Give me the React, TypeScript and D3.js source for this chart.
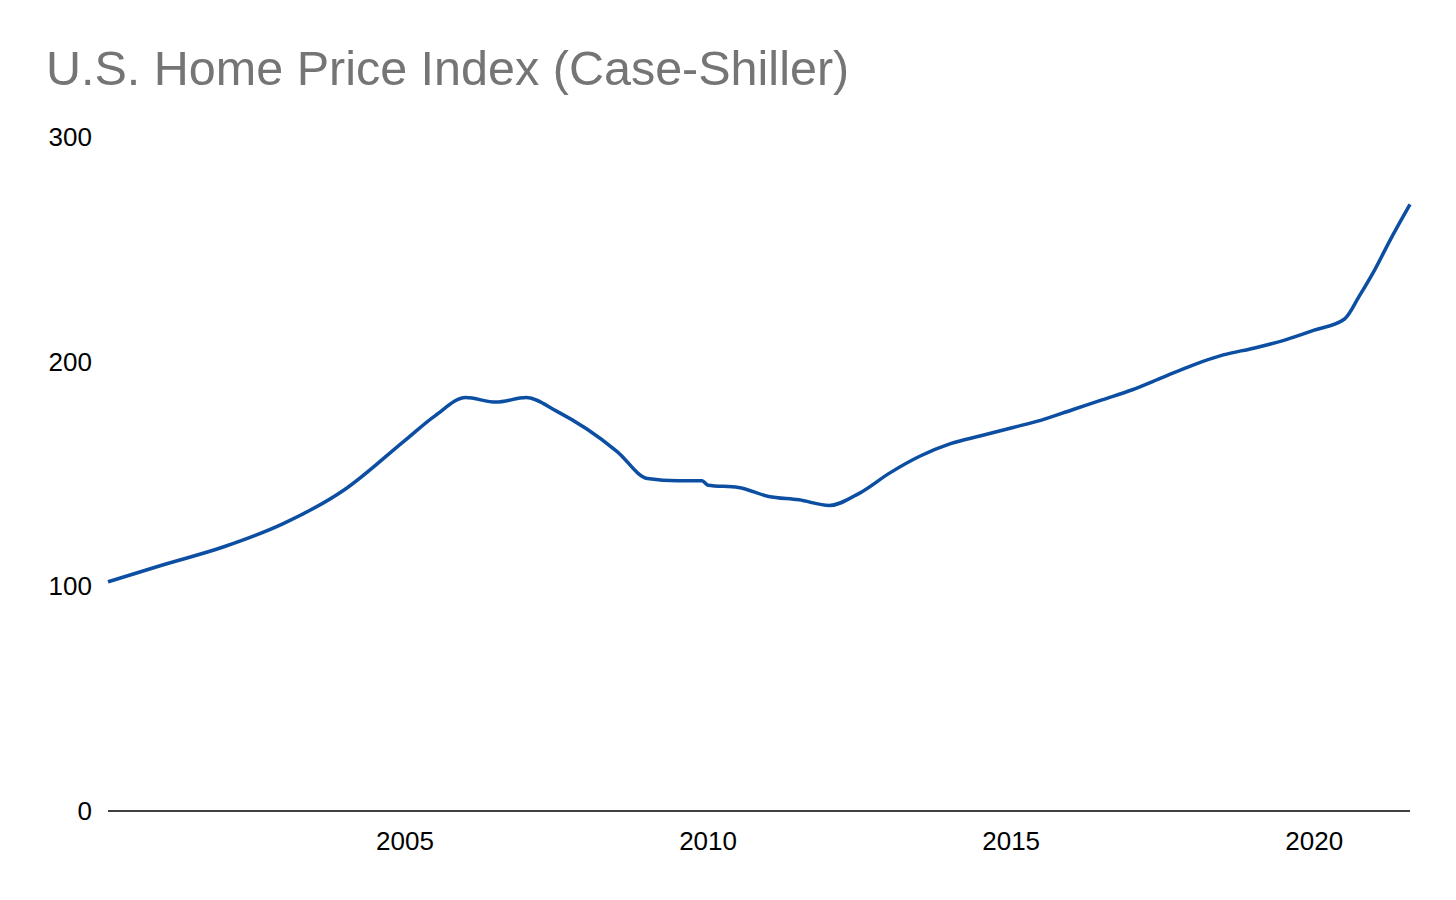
import { useEffect } from 'react'
import * as d3 from 'd3'

// year (decimal) and index value
const years = [2000.1, 2001, 2002, 2003, 2004, 2005, 2005.5, 2006, 2006.5, 2007, 2007.5, 2008, 2008.5, 2009, 2009.5, 2009.9, 2010, 2010.5, 2011, 2011.5, 2012, 2012.5, 2013, 2013.5, 2014, 2014.5, 2015, 2015.5, 2016, 2016.5, 2017, 2017.5, 2018, 2018.5, 2019, 2019.5, 2020, 2020.5, 2020.75, 2021, 2021.25, 2021.58]
const values = [102, 109.5, 117.5, 128, 143, 165, 176, 184, 182, 184, 178, 170, 160, 148, 147, 147, 145, 144, 140, 138.5, 136, 141.5, 150.5, 158, 163.5, 167, 170.5, 174, 178.5, 183, 187.5, 193, 198.5, 203, 206, 209.5, 214, 219, 229.5, 241, 254, 270]
const xTicks = [2005, 2010, 2015, 2020]
const yTicks = [0, 100, 200, 300]

const W = 1456
const H = 900
const left = 108
const right = 1410
const top = 137
const bottom = 811

export default function App() {
  useEffect(() => {
    document.body.style.margin = '0'
  }, [])

  const x = d3.scaleLinear().domain([2000.1, 2021.58]).range([left, right])
  const y = d3.scaleLinear().domain([0, 300]).range([bottom, top])
  const data = years.map((yr, i) => ({ yr, v: values[i] }))
  const line = d3.line<{ yr: number; v: number }>()
    .x(d => x(d.yr))
    .y(d => y(d.v))
    .curve(d3.curveMonotoneX)

  return (
    <svg width={W} height={H} style={{ display: 'block', fontFamily: 'Liberation Sans, Arial, sans-serif' }}>
      <rect width={W} height={H} fill="white" />
      <text x={46} y={85} fontSize={48.5} fill="#757575">U.S. Home Price Index (Case-Shiller)</text>
      {yTicks.map(t => (
        <text key={t} x={92} y={y(t) + 9} fontSize={26} textAnchor="end" fill="#000">{t}</text>
      ))}
      {xTicks.map(t => (
        <text key={t} x={x(t)} y={850} fontSize={26} textAnchor="middle" fill="#000">{t}</text>
      ))}
      <line x1={left} x2={right} y1={bottom} y2={bottom} stroke="#000" strokeWidth={1.5} />
      <path d={line(data) ?? ''} fill="none" stroke="#0b4ea2" strokeWidth={3.5} strokeLinejoin="round" />
    </svg>
  )
}
